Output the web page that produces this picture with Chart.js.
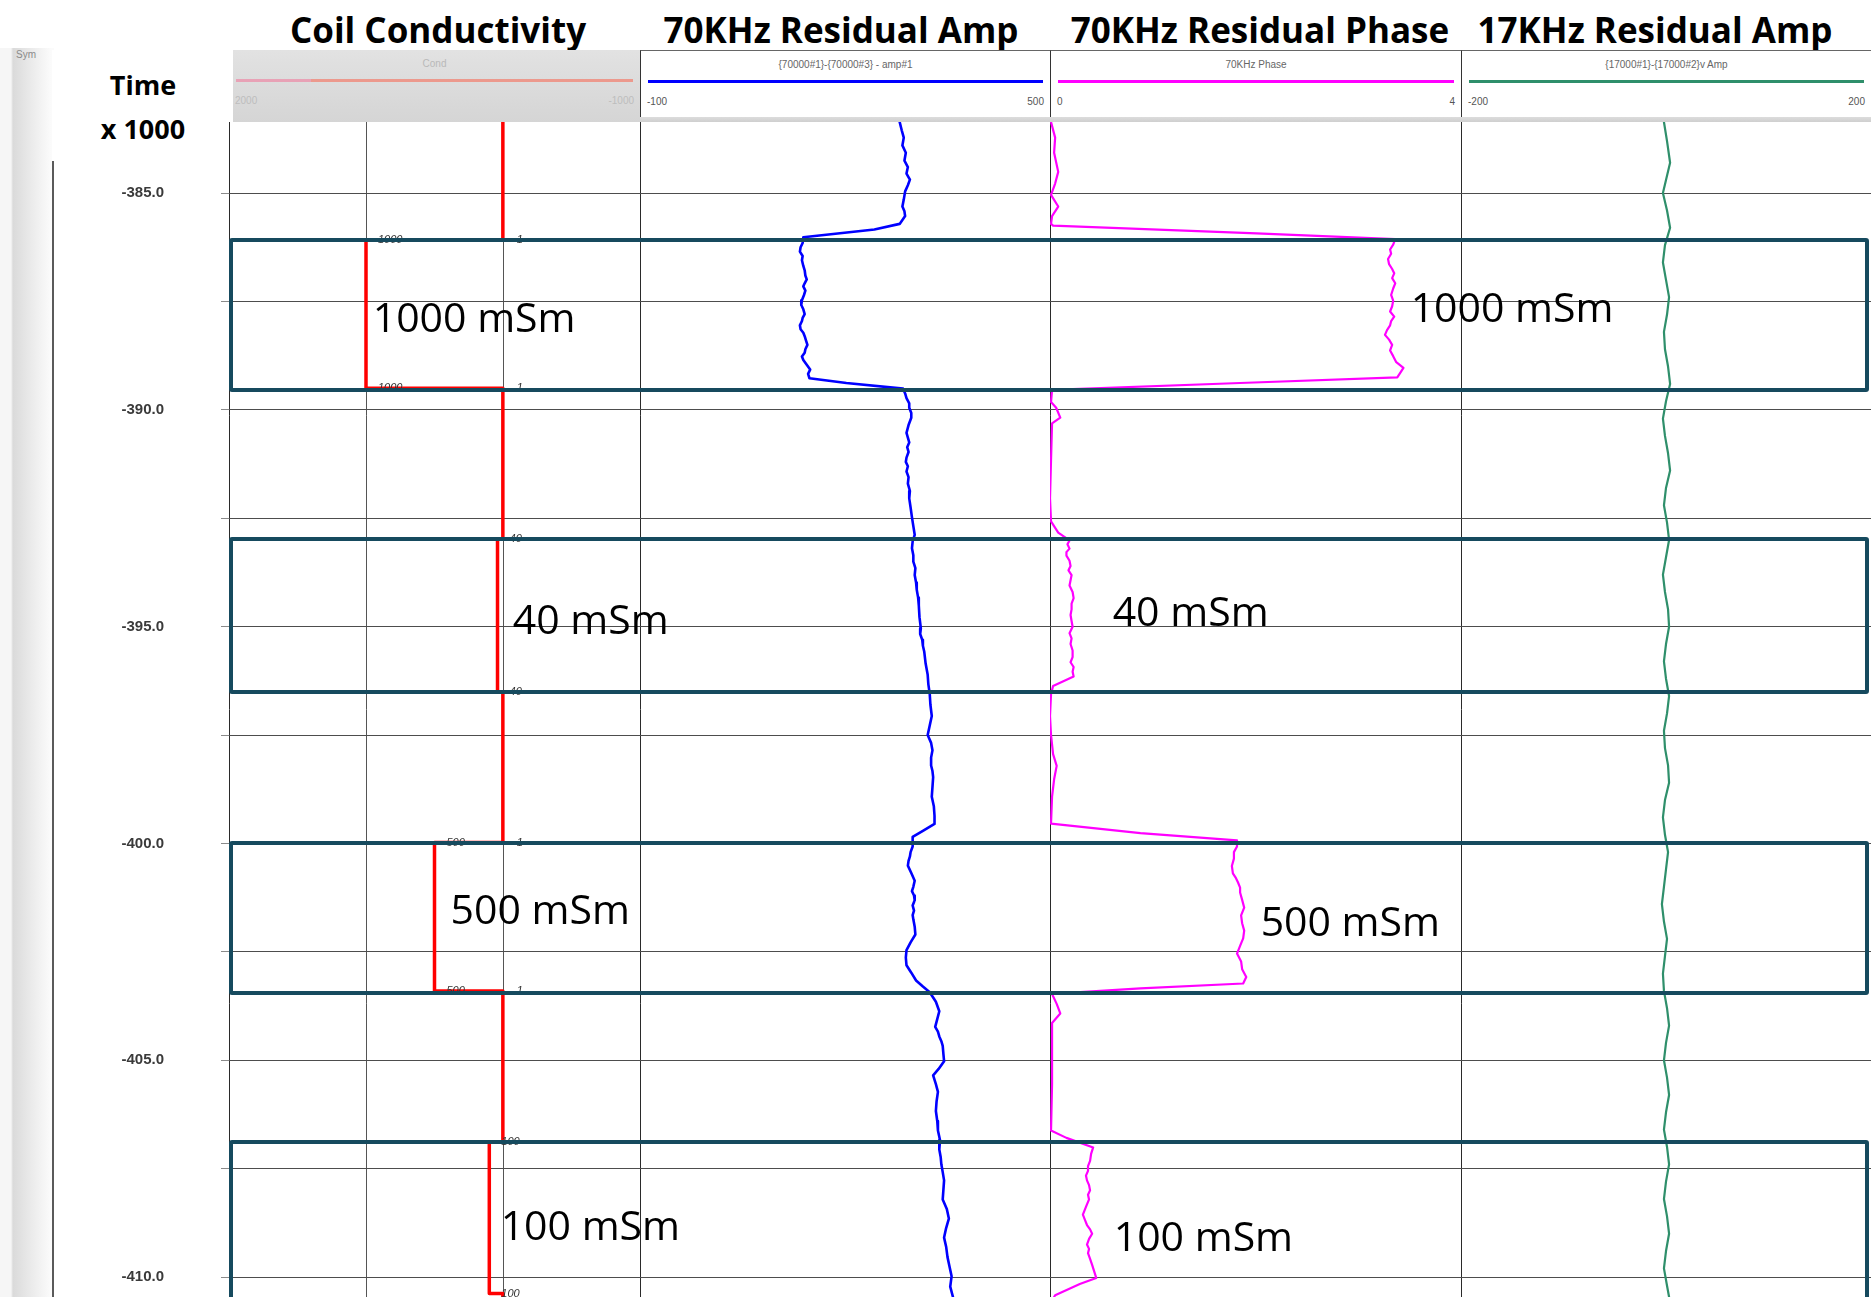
<!DOCTYPE html>
<html><head><meta charset="utf-8">
<script src="https://cdn.jsdelivr.net/npm/chart.js@4.4.1/dist/chart.umd.min.js"></script>
<style>
html,body{margin:0;padding:0;background:#fff;}
#root{position:relative;width:1871px;height:1297px;overflow:hidden;background:#fff;font-family:"Liberation Sans",Arial,sans-serif;}
.abs{position:absolute;}
.title{position:absolute;transform:translate(-50%,-50%);font-family:"Open Sans";font-weight:700;font-size:35px;line-height:1;color:#000;white-space:nowrap;}
.hname{position:absolute;left:0;right:0;text-align:center;font-size:10px;color:#666;top:58px;}
.hscale{position:absolute;font-size:10px;color:#555;}
.anno{position:absolute;transform:translateY(-50%);font-family:"Open Sans";font-size:41px;line-height:1;color:#000;white-space:nowrap;}
.box{position:absolute;border:4px solid #164a5e;box-sizing:border-box;border-radius:3px;}
canvas{position:absolute;}
</style>
</head><body>
<div id="root"></div>
<script>
// ---------------- data ----------------
const depthRange = [-410.46, -383.36];              // [min, max] of the depth axis
const depthGrid = [-385, -387.5, -390, -392.5, -395, -397.5, -400, -402.5, -405, -407.5, -410];
const depthTickLabels = ['-385.0','','-390.0','','-395.0','','-400.0','','-405.0','','-410.0'];

const trackTitles = ['Coil Conductivity','70KHz Residual Amp','70KHz Residual Phase','17KHz Residual Amp'];
const headerNames = ['Cond','{70000#1}-{70000#3} - amp#1','70KHz Phase','{17000#1}-{17000#2}v Amp'];
const scaleLeft  = [2000, -100, 0, -200];
const scaleRight = [-1000, 500, 4, 200];
const coilGrid = [2000, 1000, 0];

// coil conductivity steps (mSm)
const coilBase = 1;
const stepValues = [1000, 40, 500, 100];
const stepTop    = [-386.08, -392.98, -399.98, -406.88];
const stepBottom = [-389.50, -396.50, -403.40, -410.38];

// highlighted intervals
const boxTop    = [-386.08, -392.98, -399.98, -406.88];
const boxBottom = [-389.55, -396.50, -403.45, -410.50];

// annotation labels
const annoText = ['1000 mSm','40 mSm','500 mSm','100 mSm'];
const annoCoilValue = [951, -71, 383, 17];
const annoCoilDepth = [-387.83, -394.79, -401.48, -408.77];
const annoPhaseValue = [3.51, 0.61, 2.05, 0.62];
const annoPhaseDepth = [-387.61, -394.61, -401.76, -409.03];

// 70KHz residual amplitude
const ampDepth = [-383.36,-383.55,-383.72,-383.9,-384.07,-384.25,-384.4,-384.55,-384.69,-384.82,-384.96,-385.15,-385.31,-385.42,-385.53,-385.62,-385.71,-385.84,-386.02,-386.15,-386.25,-386.35,-386.45,-386.55,-386.68,-386.78,-386.9,-386.99,-387.08,-387.15,-387.25,-387.35,-387.47,-387.58,-387.68,-387.79,-387.88,-387.95,-388.05,-388.14,-388.22,-388.3,-388.4,-388.5,-388.6,-388.68,-388.77,-388.85,-388.96,-389.07,-389.17,-389.27,-389.38,-389.51,-389.62,-389.73,-389.85,-389.95,-390.07,-390.18,-390.35,-390.53,-390.64,-390.75,-390.86,-390.97,-391.1,-391.2,-391.3,-391.42,-391.55,-391.7,-391.87,-392.04,-392.25,-392.48,-392.68,-392.88,-393.03,-393.19,-393.35,-393.5,-393.65,-393.81,-393.98,-394.15,-394.33,-394.51,-394.78,-395.04,-395.17,-395.3,-395.44,-395.58,-395.85,-396.11,-396.33,-396.55,-396.8,-397.06,-397.28,-397.5,-397.68,-397.85,-398.02,-398.2,-398.33,-398.47,-398.7,-398.92,-399.14,-399.36,-399.55,-399.71,-399.85,-400.07,-400.2,-400.3,-400.4,-400.51,-400.68,-400.86,-401.0,-401.1,-401.2,-401.31,-401.43,-401.55,-401.65,-401.75,-401.92,-402.1,-402.28,-402.46,-402.63,-402.81,-402.98,-403.16,-403.3,-403.43,-403.65,-403.87,-404.05,-404.23,-404.34,-404.45,-404.56,-404.67,-404.85,-405.02,-405.2,-405.35,-405.55,-405.73,-405.95,-406.17,-406.4,-406.62,-406.84,-407.06,-407.23,-407.4,-407.58,-407.77,-407.99,-408.21,-408.43,-408.65,-408.87,-409.09,-409.3,-409.54,-409.76,-409.98,-410.22,-410.46];
const ampValue = [280,283,286,284,289,287,292,290,295,292,288,286,284,287,288,284,280,243,139,138,135,134,138,137,139,141,142,144,141,139,142,140,137,136,139,141,138,137,134,135,139,141,143,145,142,141,137,139,144,149,146,148,202,285,288,290,294,294,297,297,293,290,292,294,291,293,290,289,292,290,293,292,295,294,296,298,300,302,299,298,300,300,303,302,304,305,307,308,309,311,310,313,314,316,318,321,322,324,325,327,324,321,326,328,326,326,328,329,328,327,330,331,331,314,299,299,296,295,293,292,297,302,300,298,301,302,299,301,299,300,302,303,296,290,289,290,297,304,314,324,333,338,335,332,336,338,341,343,344,345,337,329,333,336,334,333,335,336,339,338,340,341,343,345,344,343,349,352,348,345,348,350,353,356,354,358];

// 70KHz residual phase
const phaseDepth = [-383.36,-383.72,-384.07,-384.51,-384.78,-385.04,-385.31,-385.53,-385.71,-385.75,-385.93,-386.06,-386.19,-386.3,-386.4,-386.52,-386.64,-386.75,-386.85,-386.96,-387.08,-387.2,-387.35,-387.48,-387.61,-387.73,-387.85,-387.95,-388.05,-388.16,-388.27,-388.38,-388.5,-388.63,-388.76,-388.9,-389.03,-389.14,-389.25,-389.38,-389.54,-389.82,-389.95,-390.18,-390.31,-391.15,-392.04,-392.57,-392.83,-393.01,-393.1,-393.2,-393.28,-393.36,-393.48,-393.6,-393.7,-393.81,-393.93,-394.05,-394.2,-394.34,-394.47,-394.6,-394.73,-394.87,-395.0,-395.15,-395.27,-395.4,-395.55,-395.7,-395.82,-395.93,-396.04,-396.15,-396.37,-396.55,-397.06,-397.5,-397.94,-398.21,-398.52,-398.92,-399.54,-399.76,-399.93,-400.07,-400.2,-400.35,-400.52,-400.69,-400.8,-400.9,-401.02,-401.13,-401.3,-401.48,-401.66,-401.84,-402.01,-402.19,-402.36,-402.54,-402.72,-402.9,-403.08,-403.23,-403.34,-403.47,-403.7,-403.92,-404.14,-404.67,-405.55,-406.62,-406.79,-407.01,-407.16,-407.32,-407.44,-407.55,-407.66,-407.77,-407.88,-408.0,-408.1,-408.21,-408.38,-408.56,-408.68,-408.8,-408.9,-409.0,-409.12,-409.25,-409.35,-409.45,-409.58,-409.72,-409.87,-410.02,-410.16,-410.42,-410.46];
const phaseValue = [0.01,0.05,0.04,0.08,0.05,0.01,0.08,0.02,0.01,0.03,2.01,3.36,3.34,3.31,3.32,3.29,3.30,3.33,3.35,3.33,3.36,3.34,3.32,3.34,3.33,3.31,3.35,3.32,3.31,3.28,3.26,3.30,3.33,3.31,3.34,3.37,3.44,3.41,3.38,1.85,0.02,0.01,0.06,0.10,0.02,0.01,0.00,0.01,0.08,0.19,0.17,0.19,0.16,0.16,0.19,0.2,0.18,0.21,0.2,0.19,0.22,0.23,0.21,0.21,0.2,0.21,0.22,0.19,0.21,0.20,0.22,0.22,0.2,0.23,0.22,0.23,0.03,0.01,0.00,0.01,0.03,0.065,0.04,0.02,0.01,0.88,1.82,1.82,1.79,1.79,1.77,1.78,1.81,1.83,1.85,1.85,1.87,1.89,1.86,1.87,1.89,1.88,1.85,1.82,1.86,1.87,1.91,1.88,0.88,0.02,0.065,0.10,0.02,0.02,0.02,0.01,0.16,0.42,0.40,0.39,0.37,0.37,0.35,0.36,0.38,0.39,0.37,0.38,0.35,0.32,0.34,0.36,0.39,0.41,0.38,0.36,0.38,0.37,0.39,0.41,0.43,0.45,0.29,0.05,0.04];

// 17KHz residual amplitude
const k17Depth = [-383.36,-383.8,-384.3,-384.7,-385.0,-385.4,-385.8,-386.2,-386.6,-387.0,-387.4,-387.8,-388.2,-388.6,-389.0,-389.4,-389.8,-390.2,-390.6,-391.0,-391.4,-391.8,-392.2,-392.6,-393.0,-393.4,-393.8,-394.2,-394.6,-395.0,-395.4,-395.8,-396.2,-396.6,-397.0,-397.4,-397.8,-398.2,-398.6,-399.0,-399.4,-399.8,-400.2,-400.6,-401.0,-401.4,-401.8,-402.2,-402.6,-403.0,-403.4,-403.8,-404.2,-404.6,-405.0,-405.4,-405.8,-406.2,-406.6,-407.0,-407.4,-407.8,-408.2,-408.6,-409.0,-409.4,-409.8,-410.2,-410.46];
const k17Value = [-2,1,4,0,-3,1,4,-1,-3,0,3,1,-2,-1,2,4,0,-3,-1,2,4,0,-2,1,3,0,-3,-1,2,3,0,-2,0,3,1,-2,-1,2,3,-1,-3,-1,2,0,-2,-4,-2,1,-1,-3,-2,1,3,0,-2,1,3,0,-2,1,3,0,-2,1,3,0,-2,1,3];

// ---------------- layout ----------------
const W = 1871, TOP = 122, H = 1297 - 122;
const tracks = [{l:229,r:640},{l:640,r:1050},{l:1050,r:1461},{l:1461,r:1871}];
const titleCenters = [438, 841, 1260, 1655];
const depthLeft = 54, depthAxisWidth = 175;
const colors = ['#ff0000','#0000ff','#ff00ff','#2f8f6b'];

const root = document.getElementById('root');
function el(tag, cls, style, text){ const e=document.createElement(tag); if(cls) e.className=cls; if(style) e.style.cssText=style; if(text!=null) e.textContent=text; root.appendChild(e); return e; }

// left strip
el('div','abs','left:0;top:48px;width:54px;height:1249px;background:linear-gradient(to right,#f6f6f6 0,#f6f6f6 11px,#dadada 13px,#e6e6e6 26px,#f2f2f2 40px,#fbfbfb 51px);');
el('div','abs','left:52px;top:160px;width:1.5px;height:1140px;background:#5a5a5a;');
el('div','abs','left:16px;top:49px;font-size:10px;color:#8a8a8a;','Sym');

// titles
trackTitles.forEach((t,i)=>{ el('div','title','left:'+titleCenters[i]+'px;top:29px;',t); });

// headers
el('div','abs','left:640px;top:117px;width:1231px;height:5px;background:linear-gradient(#dcdcdc,#cfcfcf);');
tracks.forEach((tr,i)=>{
  const w = tr.r - tr.l;
  const h = el('div','abs','left:'+tr.l+'px;top:50px;width:'+w+'px;height:'+(i===0?72:67)+'px;'+
    (i===0?'background:linear-gradient(#e2e2e2,#d5d5d5);':'background:#fff;border-top:1px solid #666;border-left:1px solid #333;box-sizing:border-box;'));
  const n=document.createElement('div'); n.className='hname'; n.style.top='8px'; n.textContent=headerNames[i]; if(i===0) n.style.color='#b9b9b9'; h.appendChild(n);
  const ln=document.createElement('div'); ln.style.cssText='position:absolute;height:3px;top:29px;left:7px;right:7px;background:'+(i===0?'linear-gradient(to right,#e8a2b6 0,#e8a2b6 19%,#ec998d 19%)':colors[i])+';'; h.appendChild(ln);
  const sl=document.createElement('div'); sl.className='hscale'; sl.style.cssText='position:absolute;top:45px;left:6px;font-size:10px;color:'+(i===0?'#bdbdbd':'#555')+';'; sl.textContent=scaleLeft[i]; h.appendChild(sl);
  const sr=document.createElement('div'); sr.className='hscale'; sr.style.cssText='position:absolute;top:45px;right:6px;font-size:10px;color:'+(i===0?'#bdbdbd':'#555')+';'; sr.textContent=scaleRight[i]; h.appendChild(sr);
});

// time box
el('div','abs','left:52px;top:50px;width:181px;height:111px;background:#fff;');
el('div','title','left:143px;top:84px;font-size:27px;','Time');
el('div','title','left:143px;top:128px;font-size:27px;','x 1000');

// ---------------- charts ----------------
function zip(ys, xs){ const n=Math.min(ys.length,xs.length); const out=[]; for(let i=0;i<n;i++) out.push({x:xs[i],y:ys[i]}); return out; }
function coilPoints(){
  const pts=[{x:coilBase,y:depthRange[1]}];
  stepValues.forEach((v,i)=>{ pts.push({x:coilBase,y:stepTop[i]},{x:v,y:stepTop[i]},{x:v,y:stepBottom[i]},{x:coilBase,y:stepBottom[i]}); });
  pts.push({x:coilBase,y:depthRange[0]});
  return pts;
}

function makeCanvas(left, width){
  const c=document.createElement('canvas'); c.width=width; c.height=H;
  c.style.cssText='left:'+left+'px;top:'+TOP+'px;width:'+width+'px;height:'+H+'px;';
  root.appendChild(c); return c;
}

function yScale(withLabels){
  const s = { type:'linear', min:depthRange[0], max:depthRange[1], position:'left', display:true,
    afterBuildTicks: sc => { sc.ticks = depthGrid.map(v=>({value:v})); },
    border:{display:false} };
  if(withLabels){
    s.afterFit = sc => { sc.width = depthAxisWidth; sc.paddingTop = 0; sc.paddingBottom = 0; };
    s.ticks = { display:true, autoSkip:false, crossAlign:'center', padding:57, color:'#3a3a3a',
      font:{family:'"Liberation Sans", Arial', size:15, weight:'bold'},
      callback:(v,i)=>depthTickLabels[i] };
    s.grid = { color:'#4d4d4d', lineWidth:1, drawTicks:true, tickLength:8, tickColor:'#8a8a8a' };
  } else {
    s.afterFit = sc => { sc.width = 0; sc.paddingTop = 0; sc.paddingBottom = 0; };
    s.ticks = { display:false };
    s.grid = { color:'#4d4d4d', lineWidth:1, drawTicks:false };
  }
  return s;
}
function xScale(min, max, gridVals, reverse){
  return { type:'linear', min, max, reverse:!!reverse, display:true, position:'bottom',
    afterBuildTicks: sc => { sc.ticks = gridVals.map(v=>({value:v})); },
    afterFit: sc => { sc.height = 0; sc.paddingLeft = 0; sc.paddingRight = 0; },
    ticks:{display:false}, border:{display:false},
    grid:{ drawTicks:false, lineWidth:1, color: ctx => (ctx.index===0 ? '#2a2a2a' : '#555') } };
}
function baseOptions(x, y){
  return { responsive:false, animation:false, devicePixelRatio:1, events:[],
    layout:{padding:0},
    plugins:{legend:{display:false}, tooltip:{enabled:false}},
    elements:{point:{radius:0}, line:{tension:0, borderJoinStyle:'round', borderCapStyle:'round'}},
    scales:{x, y} };
}

const coilLabels = { id:'coilLabels', afterDatasetsDraw(chart){
  const {ctx, scales:{x,y}} = chart; ctx.save();
  ctx.font='italic 11px "Liberation Sans", Arial'; ctx.fillStyle='#333'; ctx.textBaseline='middle'; ctx.textAlign='left';
  stepValues.forEach((v,i)=>{ [stepTop[i], stepBottom[i]].forEach(d=>{
    const py=y.getPixelForValue(d); const px=x.getPixelForValue(v)+12; const t=String(v);
    ctx.fillText(t,px,py); const bx=x.getPixelForValue(coilBase)+14;
    if(px+ctx.measureText(t).width < bx-2) ctx.fillText(String(coilBase),bx,py);
  }); });
  ctx.restore(); } };

const coilChart = new Chart(makeCanvas(depthLeft, tracks[0].r - depthLeft), {
  type:'scatter',
  data:{datasets:[{data:coilPoints(), showLine:true, borderColor:colors[0], borderWidth:3.5, fill:false}]},
  options: baseOptions(xScale(scaleRight[0], scaleLeft[0], coilGrid, true), yScale(true)),
  plugins:[coilLabels]
});
const ampChart = new Chart(makeCanvas(tracks[1].l, tracks[1].r-tracks[1].l), {
  type:'scatter',
  data:{datasets:[{data:zip(ampDepth, ampValue), showLine:true, borderColor:colors[1], borderWidth:2.6, fill:false}]},
  options: baseOptions(xScale(scaleLeft[1], scaleRight[1], [scaleLeft[1]]), yScale(false))
});
const phaseChart = new Chart(makeCanvas(tracks[2].l, tracks[2].r-tracks[2].l), {
  type:'scatter',
  data:{datasets:[{data:zip(phaseDepth, phaseValue), showLine:true, borderColor:colors[2], borderWidth:2.2, fill:false}]},
  options: baseOptions(xScale(scaleLeft[2], scaleRight[2], [scaleLeft[2]]), yScale(false))
});
const k17Chart = new Chart(makeCanvas(tracks[3].l, tracks[3].r-tracks[3].l), {
  type:'scatter',
  data:{datasets:[{data:zip(k17Depth, k17Value), showLine:true, borderColor:colors[3], borderWidth:2.2, fill:false}]},
  options: baseOptions(xScale(scaleLeft[3], scaleRight[3], [scaleLeft[3]]), yScale(false))
});

// ---------------- overlays (positioned through the chart scales) ----------------
const ys = ampChart.scales.y;
const boxLeft = 229, boxRight = 1869;
boxTop.forEach((t,i)=>{
  const y1 = ys.getPixelForValue(t)+TOP, y2 = ys.getPixelForValue(boxBottom[i])+TOP;
  el('div','box','left:'+boxLeft+'px;top:'+(y1-2)+'px;width:'+(boxRight-boxLeft)+'px;height:'+(y2-y1+4)+'px;');
});
annoText.forEach((t,i)=>{
  const cx = coilChart.scales.x.getPixelForValue(annoCoilValue[i]) + depthLeft;
  const cy = coilChart.scales.y.getPixelForValue(annoCoilDepth[i]) + TOP;
  el('div','anno','left:'+cx+'px;top:'+cy+'px;',t);
  const px = phaseChart.scales.x.getPixelForValue(annoPhaseValue[i]) + tracks[2].l;
  const py = phaseChart.scales.y.getPixelForValue(annoPhaseDepth[i]) + TOP;
  el('div','anno','left:'+px+'px;top:'+py+'px;',t);
});
</script>
</body></html>
